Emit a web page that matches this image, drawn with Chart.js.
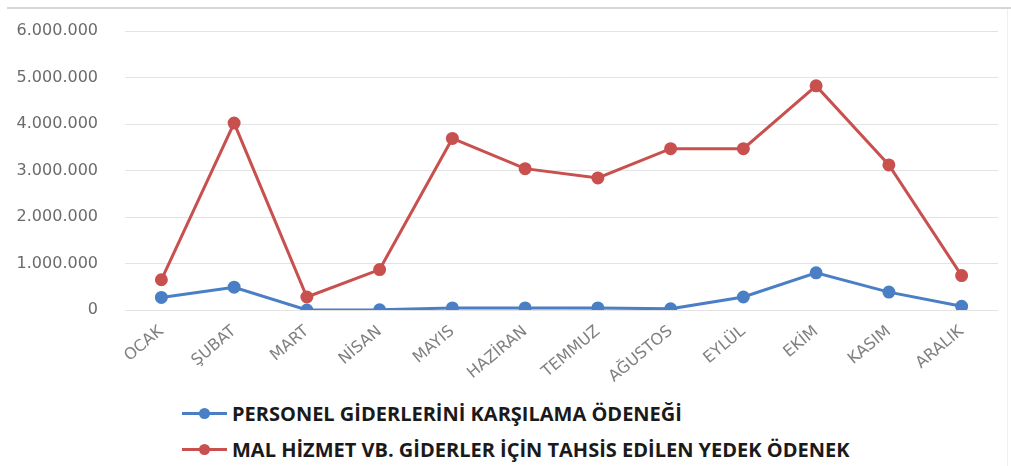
<!DOCTYPE html>
<html lang="tr">
<head>
<meta charset="utf-8">
<title>Yedek Ödenek</title>
<script src="https://cdn.jsdelivr.net/npm/chart.js@4"></script>
<style>
  body { margin: 0; background: #fff; width: 1011px; height: 466px; position: relative; overflow: hidden; }
  #topLine { position: absolute; left: 7px; right: 0; top: 7px; height: 2px; background: #d6d6d6; }
  #rightLine { position: absolute; top: 9px; bottom: 0; left: 1007px; width: 1px; background: #f0f0f0; }
  #wrap { position: absolute; left: 0; top: 0; width: 1011px; height: 390px; }
  #legend { position: absolute; left: 182px; top: 395px; font-family: "Open Sans", sans-serif; font-weight: bold; font-size: 20px; color: #1a1a1a; }
  .item { display: flex; align-items: center; height: 36px; }
  .swatch { position: relative; width: 45px; height: 3px; margin-right: 5px; }
  .swatch span { position: absolute; left: 17px; top: -4px; width: 11px; height: 11px; border-radius: 50%; }
</style>
</head>
<body>
<div id="topLine"></div>
<div id="rightLine"></div>
<div id="wrap"><canvas id="lineChart"></canvas></div>
<div id="legend"></div>
<script>
const months = ["OCAK", "ŞUBAT", "MART", "NİSAN", "MAYIS", "HAZİRAN", "TEMMUZ", "AĞUSTOS", "EYLÜL", "EKİM", "KASIM", "ARALIK"];
const personel = [270000, 490000, 0, 5000, 45000, 45000, 45000, 25000, 280000, 800000, 385000, 80000];
const malHizmet = [650000, 4020000, 280000, 870000, 3690000, 3040000, 2840000, 3470000, 3470000, 4820000, 3120000, 740000];
const yTicks = [0, 1000000, 2000000, 3000000, 4000000, 5000000, 6000000];

const BLUE = "#4a7fc6";
const RED = "#c8504e";

function fmt(v) {
  // 6000000 -> 6.000.000
  return String(v).replace(/\B(?=(\d{3})+(?!\d))/g, ".");
}

function series(label, data, color) {
  return {
    label, data,
    borderColor: color, backgroundColor: color,
    borderWidth: 3, pointRadius: 5, pointHoverRadius: 5,
    pointBackgroundColor: color, pointBorderColor: color,
    tension: 0
  };
}

const chart = new Chart(document.getElementById("lineChart"), {
  type: "line",
  data: {
    labels: months,
    datasets: [
      series("PERSONEL GİDERLERİNİ KARŞILAMA ÖDENEĞİ", personel, BLUE),
      series("MAL HİZMET VB. GİDERLER İÇİN TAHSİS EDİLEN YEDEK ÖDENEK", malHizmet, RED)
    ]
  },
  options: {
    responsive: true,
    maintainAspectRatio: false,
    animation: false,
    layout: { padding: { top: 31, right: 13, left: 0, bottom: 0 } },
    plugins: { legend: { display: false }, tooltip: { enabled: false } },
    scales: {
      x: {
        offset: true,
        grid: { display: false, drawTicks: false },
        border: { display: false },
        ticks: {
          color: "#808080",
          font: { family: "DejaVu Sans", size: 16 },
          minRotation: 40, maxRotation: 40,
          padding: 12, autoSkip: false
        },
        afterFit: s => { s.height = 80; }
      },
      y: {
        min: 0, max: 6000000,
        afterBuildTicks: s => { s.ticks = yTicks.map(v => ({ value: v })); },
        grid: { color: "#e3e3e3", lineWidth: 1, drawTicks: false },
        border: { display: false },
        ticks: {
          color: "#6b6b6b",
          font: { family: "DejaVu Sans", size: 16 },
          padding: 27,
          callback: v => fmt(v)
        },
        afterFit: s => { s.width = 125; s.paddingTop = 0; s.paddingBottom = 0; }
      }
    }
  }
});

function buildLegend() {
  const box = document.getElementById("legend");
  box.innerHTML = "";
  for (const ds of chart.data.datasets) {
    const row = document.createElement("div");
    row.className = "item";
    row.innerHTML = `<div class="swatch" style="background:${ds.borderColor}"><span style="background:${ds.borderColor}"></span></div><div>${ds.label}</div>`;
    box.appendChild(row);
  }
}

buildLegend();
</script>
</body>
</html>
